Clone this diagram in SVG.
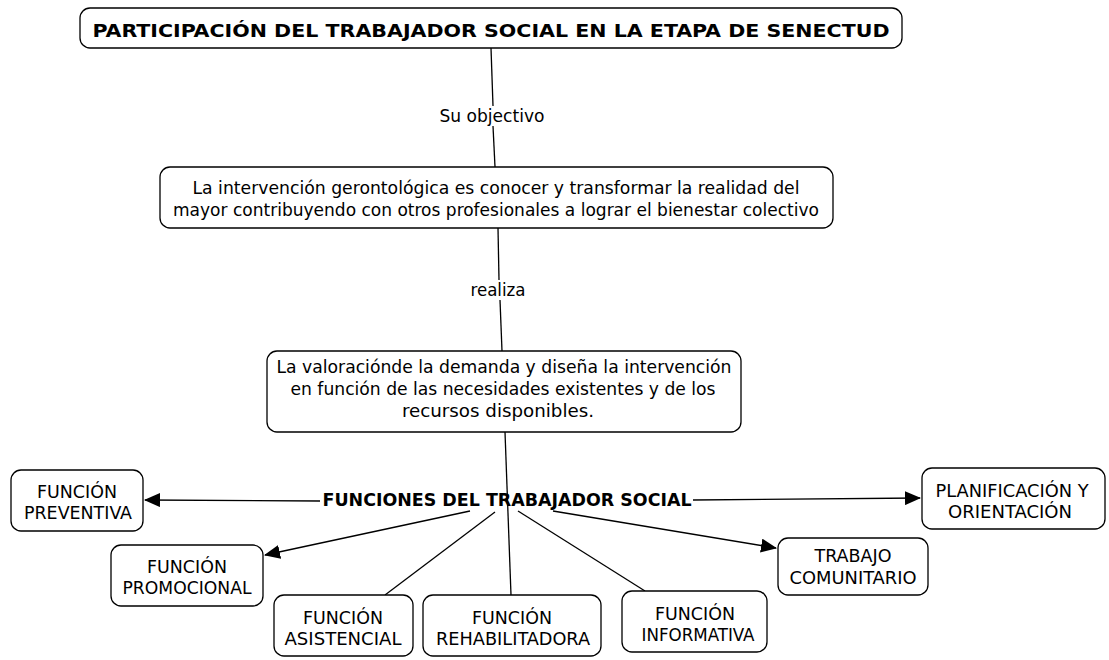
<svg xmlns="http://www.w3.org/2000/svg" width="1109" height="660" viewBox="0 0 1109 660">
<style>
.box{fill:#fff;stroke:#000;stroke-width:1.3}
.t{font-family:"DejaVu Sans Condensed","DejaVu Sans",Verdana,sans-serif;font-size:17px;fill:#000;text-anchor:middle}
.b{font-weight:bold}
.c{stroke:#000;stroke-width:1.3;fill:none}
</style>
<defs>
<marker id="ah" viewBox="0 0 16 14" refX="15" refY="7" markerWidth="16" markerHeight="14" markerUnits="userSpaceOnUse" orient="auto">
<path d="M0,0 L16,7 L0,14 Z" fill="#000"/>
</marker>
</defs>
<rect width="1109" height="660" fill="#fff"/>
<g id="connectors">
<line class="c" x1="491" y1="48" x2="493" y2="106"/>
<line class="c" x1="493" y1="126" x2="495" y2="167"/>
<line class="c" x1="498" y1="228" x2="499" y2="280"/>
<line class="c" x1="500" y1="300" x2="502" y2="351"/>
<line class="c" x1="505" y1="432" x2="511" y2="595"/>
<line class="c" x1="320" y1="501" x2="145" y2="500" marker-end="url(#ah)"/>
<line class="c" x1="470" y1="511" x2="265" y2="555" marker-end="url(#ah)"/>
<line class="c" x1="495" y1="512" x2="385" y2="595"/>
<line class="c" x1="518" y1="511" x2="645" y2="591"/>
<line class="c" x1="553" y1="511" x2="776" y2="548" marker-end="url(#ah)"/>
<line class="c" x1="693" y1="500" x2="920" y2="498" marker-end="url(#ah)"/>
<text class="t" x="492" y="122" textLength="105" lengthAdjust="spacingAndGlyphs">Su objectivo</text>
<text class="t" x="498" y="296" textLength="55" lengthAdjust="spacingAndGlyphs">realiza</text>
</g>
<g id="title">
<rect class="box" x="80" y="8" width="822" height="40" rx="10"/>
<text class="t b" x="491" y="37" font-size="18" textLength="797" lengthAdjust="spacingAndGlyphs">PARTICIPACIÓN DEL TRABAJADOR SOCIAL EN LA ETAPA DE SENECTUD</text>
</g>
<g id="intervencion">
<rect class="box" x="160" y="167" width="673" height="61" rx="10"/>
<text class="t" x="496" y="194" textLength="607" lengthAdjust="spacingAndGlyphs">La intervención gerontológica es conocer y transformar la realidad del</text>
<text class="t" x="496" y="216" textLength="646" lengthAdjust="spacingAndGlyphs">mayor contribuyendo con otros profesionales a lograr el bienestar colectivo</text>
</g>
<g id="valoracion">
<rect class="box" x="267" y="351" width="474" height="81" rx="10"/>
<text class="t" x="504" y="373" textLength="455" lengthAdjust="spacingAndGlyphs">La valoraciónde la demanda y diseña la intervención</text>
<text class="t" x="503" y="395" textLength="425" lengthAdjust="spacingAndGlyphs">en función de las necesidades existentes y de los</text>
<text class="t" x="498" y="417" textLength="192" lengthAdjust="spacingAndGlyphs">recursos disponibles.</text>
</g>
<g id="funciones">
<text class="t b" x="507" y="506" textLength="369" lengthAdjust="spacingAndGlyphs">FUNCIONES DEL TRABAJADOR SOCIAL</text>
</g>
<g id="preventiva">
<rect class="box" x="11" y="470" width="132" height="61" rx="10"/>
<text class="t" x="77" y="498" textLength="80" lengthAdjust="spacingAndGlyphs">FUNCIÓN</text>
<text class="t" x="78" y="519" textLength="108" lengthAdjust="spacingAndGlyphs">PREVENTIVA</text>
</g>
<g id="promocional">
<rect class="box" x="111" y="545" width="152" height="61" rx="10"/>
<text class="t" x="187" y="573" textLength="80" lengthAdjust="spacingAndGlyphs">FUNCIÓN</text>
<text class="t" x="187" y="594" textLength="129" lengthAdjust="spacingAndGlyphs">PROMOCIONAL</text>
</g>
<g id="asistencial">
<rect class="box" x="274" y="595" width="139" height="61" rx="10"/>
<text class="t" x="343" y="624" textLength="80" lengthAdjust="spacingAndGlyphs">FUNCIÓN</text>
<text class="t" x="343" y="645" textLength="117" lengthAdjust="spacingAndGlyphs">ASISTENCIAL</text>
</g>
<g id="rehabilitadora">
<rect class="box" x="423" y="595" width="178" height="61" rx="10"/>
<text class="t" x="512" y="624" textLength="80" lengthAdjust="spacingAndGlyphs">FUNCIÓN</text>
<text class="t" x="513" y="645" textLength="154" lengthAdjust="spacingAndGlyphs">REHABILITADORA</text>
</g>
<g id="informativa">
<rect class="box" x="622" y="591" width="145" height="61" rx="10"/>
<text class="t" x="695" y="620" textLength="80" lengthAdjust="spacingAndGlyphs">FUNCIÓN</text>
<text class="t" x="698" y="641" textLength="113" lengthAdjust="spacingAndGlyphs">INFORMATIVA</text>
</g>
<g id="comunitario">
<rect class="box" x="778" y="538" width="150" height="57" rx="10"/>
<text class="t" x="853" y="562" textLength="77" lengthAdjust="spacingAndGlyphs">TRABAJO</text>
<text class="t" x="853" y="584" textLength="127" lengthAdjust="spacingAndGlyphs">COMUNITARIO</text>
</g>
<g id="planificacion">
<rect class="box" x="922" y="468" width="183" height="61" rx="10"/>
<text class="t" x="1012" y="497" textLength="153" lengthAdjust="spacingAndGlyphs">PLANIFICACIÓN Y</text>
<text class="t" x="1010" y="518" textLength="124" lengthAdjust="spacingAndGlyphs">ORIENTACIÓN</text>
</g>
</svg>
